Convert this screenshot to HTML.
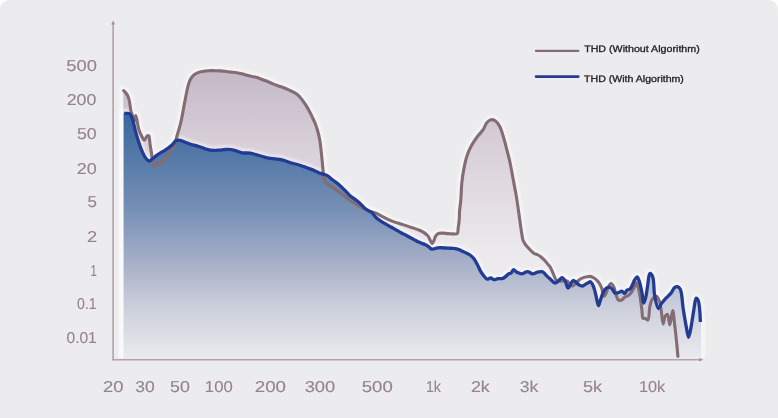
<!DOCTYPE html>
<html><head><meta charset="utf-8">
<style>
html,body{margin:0;padding:0;background:#fff;}
body{width:778px;height:418px;overflow:hidden;}
.card{position:absolute;left:0;top:0;width:778px;height:418px;background:#ececee;border-radius:9px 9px 0 0;}
svg{position:absolute;left:0;top:0;text-rendering:geometricPrecision;will-change:transform;}
.ax text{font-family:"Liberation Sans",sans-serif;font-size:15.8px;fill:#94838b;stroke:#94838b;stroke-width:0.12px;}
.lg text{font-family:"Liberation Sans",sans-serif;font-size:9.5px;fill:#222;stroke:#222;stroke-width:0.3px;}
</style></head><body>
<div class="card"></div>
<svg width="778" height="418" viewBox="0 0 778 418">
<defs>
<linearGradient id="gb" x1="0" y1="70" x2="0" y2="255" gradientUnits="userSpaceOnUse">
<stop offset="0" stop-color="#c4b8c7"/>
<stop offset="0.4" stop-color="#d8cfd8"/>
<stop offset="1" stop-color="#edeaed"/>
</linearGradient>
<linearGradient id="gu" x1="0" y1="112" x2="0" y2="358" gradientUnits="userSpaceOnUse">
<stop offset="0" stop-color="#37669d"/>
<stop offset="0.4" stop-color="#7790b5"/>
<stop offset="0.62" stop-color="#a8b1c8"/>
<stop offset="0.8" stop-color="#cdd0dc"/>
<stop offset="1" stop-color="#eaeaee"/>
</linearGradient>
<filter id="bl" x="-5%" y="-5%" width="110%" height="110%"><feGaussianBlur stdDeviation="1.2"/></filter>
<clipPath id="cp"><rect x="0" y="0" width="778" height="358.2"/></clipPath>
</defs>
<path d="M123.3,359.5 L123.3,90.7 L123.7,90.7 C123.70,90.70 126.22,93.15 127.1,94.6 C127.98,96.05 128.52,97.71 129,99.4 C129.51,101.19 129.68,103.20 130,105.1 C130.32,107.00 130.48,109.00 130.9,110.8 C131.29,112.48 131.90,113.95 132.4,115.6 C132.93,117.35 133.44,120.99 134,121 C134.57,121.01 135.20,115.47 135.8,115.5 C136.72,115.55 137.47,125.02 138.6,128.7 C139.45,131.48 140.42,133.78 141.5,135.8 C142.39,137.46 143.45,140.11 144.4,140.1 C145.35,140.09 146.27,136.30 147.2,135.8 C147.70,135.53 148.29,135.45 148.7,135.8 C149.69,136.64 149.63,141.52 150.1,144.4 C150.57,147.29 151.03,150.10 151.5,153.1 C152.00,156.32 152.33,160.67 153,163.1 C153.40,164.56 153.82,166.45 154.4,166.5 C155.01,166.56 155.74,163.40 156.6,163.1 C157.23,162.88 158.02,163.65 158.7,163.8 C159.32,163.94 159.90,164.20 160.5,164 C161.33,163.73 162.11,162.69 163,161.7 C164.30,160.25 165.86,157.82 167.3,155.9 C168.73,153.99 170.38,152.17 171.6,150.2 C172.76,148.33 173.64,146.60 174.5,144.4 C175.55,141.73 176.36,138.07 177.2,135.2 C177.94,132.68 178.62,130.59 179.3,128.1 C180.05,125.35 180.82,122.51 181.5,119.4 C182.27,115.87 182.89,111.81 183.6,108 C184.32,104.17 185.14,99.86 185.8,96.5 C186.31,93.88 186.70,91.69 187.2,89.5 C187.64,87.55 188.06,85.73 188.6,84 C189.10,82.41 189.52,80.91 190.3,79.5 C191.11,78.04 192.18,76.53 193.4,75.4 C194.59,74.31 196.00,73.45 197.5,72.8 C199.06,72.13 200.81,71.84 202.6,71.5 C204.56,71.13 206.73,70.83 208.8,70.7 C210.86,70.57 212.94,70.67 215,70.7 C217.04,70.73 219.15,70.76 221.1,70.9 C222.91,71.03 224.58,71.30 226.3,71.5 C228.01,71.70 229.69,71.88 231.4,72.1 C233.13,72.32 234.88,72.52 236.6,72.8 C238.31,73.08 240.01,73.40 241.7,73.8 C243.41,74.20 245.09,74.77 246.8,75.2 C248.52,75.63 250.28,76.00 252,76.4 C253.71,76.80 255.65,77.16 257.1,77.6 C258.22,77.94 258.87,78.28 260,78.7 C261.58,79.29 263.80,80.06 265.7,80.8 C267.63,81.56 269.57,82.41 271.5,83.2 C273.41,83.98 275.28,84.78 277.2,85.5 C279.12,86.22 281.08,86.78 283,87.5 C284.92,88.22 286.82,88.94 288.7,89.8 C290.62,90.67 292.66,91.65 294.4,92.7 C296.00,93.66 297.49,94.58 298.8,95.8 C300.13,97.04 301.15,98.58 302.3,100.1 C303.52,101.71 304.74,103.37 305.9,105.2 C307.15,107.18 308.39,109.51 309.5,111.6 C310.54,113.57 311.45,115.41 312.4,117.4 C313.39,119.47 314.46,121.66 315.3,123.8 C316.11,125.86 316.74,127.69 317.4,130 C318.22,132.86 319.05,136.06 319.7,139.7 C320.52,144.27 321.01,149.86 321.6,155.3 C322.25,161.25 323.02,169.90 323.4,174 C323.59,176.01 323.41,177.05 323.8,178.5 C324.20,179.99 324.80,181.59 325.8,182.8 C326.86,184.08 328.51,184.79 330.1,185.9 C332.03,187.25 334.46,188.79 336.6,190.3 C338.76,191.82 340.82,193.38 343,195 C345.29,196.71 348.01,198.93 350,200.3 C351.40,201.26 352.42,201.79 353.7,202.6 C355.11,203.48 356.69,204.53 358.1,205.4 C359.38,206.19 360.55,206.90 361.8,207.6 C363.05,208.30 364.20,208.98 365.6,209.6 C367.22,210.32 369.23,211.01 371,211.6 C372.69,212.17 374.28,212.38 376,213.1 C378.00,213.94 380.12,215.41 382.2,216.5 C384.26,217.58 386.30,218.66 388.4,219.6 C390.47,220.53 392.59,221.36 394.7,222.1 C396.76,222.82 398.94,223.39 400.9,224 C402.68,224.55 404.36,225.05 406,225.6 C407.55,226.12 408.99,226.70 410.5,227.2 C412.00,227.70 413.47,228.07 415,228.6 C416.63,229.16 418.45,229.80 420,230.5 C421.43,231.14 422.71,231.72 424,232.6 C425.41,233.56 427.07,234.78 428.1,236.1 C429.04,237.30 429.42,238.82 430.1,240.1 C430.75,241.31 431.43,243.60 432.1,243.6 C432.77,243.60 433.52,241.33 434.1,240.1 C434.69,238.83 434.88,237.21 435.6,236.1 C436.25,235.09 437.07,234.11 438.1,233.6 C439.20,233.06 440.62,233.13 442.1,233.1 C443.92,233.06 446.27,233.46 448.2,233.6 C449.95,233.72 451.63,233.91 453.2,233.9 C454.61,233.89 456.35,234.37 457.2,233.6 C458.22,232.68 457.89,230.04 458.2,228 C458.57,225.57 458.97,222.78 459.2,220 C459.45,217.00 459.35,213.82 459.6,210.6 C459.87,207.17 460.46,203.94 460.8,200 C461.23,195.05 461.24,188.64 461.8,183.2 C462.33,178.02 463.05,172.91 464,168.1 C464.88,163.61 465.85,159.14 467.2,155.2 C468.41,151.68 469.76,148.66 471.5,145.5 C473.33,142.19 475.86,138.65 478,135.8 C479.82,133.39 481.94,131.63 483.4,129.4 C484.76,127.32 485.21,124.57 486.6,122.9 C487.79,121.46 489.39,120.00 490.9,119.7 C492.27,119.43 493.89,119.96 495.2,120.8 C496.82,121.84 498.21,123.77 499.5,126.1 C501.40,129.52 503.05,135.87 504.3,140 C505.28,143.25 505.78,145.60 506.6,148.8 C507.59,152.64 508.78,156.85 509.8,161.5 C511.03,167.07 512.34,174.93 513.3,180 C513.97,183.53 514.46,186.07 515,189 C515.52,191.80 515.98,194.05 516.5,197.2 C517.20,201.47 517.98,207.27 518.7,212.3 C519.42,217.33 520.18,223.22 520.8,227.4 C521.24,230.37 521.60,232.70 522,235 C522.33,236.93 522.43,238.76 523,240.3 C523.49,241.63 524.27,242.70 525,243.8 C525.71,244.86 526.29,245.65 527.3,246.8 C528.87,248.58 531.73,251.82 533.8,253.2 C535.28,254.19 536.84,254.31 538.1,255 C539.20,255.60 540.03,256.23 541,257 C542.09,257.87 543.17,258.83 544.3,260 C545.66,261.42 547.45,263.78 548.5,265 C549.12,265.72 549.47,265.88 550,266.7 C551.02,268.27 552.29,271.86 553.4,274.2 C554.39,276.29 554.96,278.95 556.3,280.1 C557.34,281.00 558.80,281.23 560.1,281.3 C561.43,281.38 562.90,280.48 564.2,280.5 C565.39,280.52 566.65,280.64 567.6,281.3 C568.68,282.05 569.12,284.33 570.1,285.1 C570.85,285.69 571.75,286.16 572.6,286 C573.71,285.79 574.89,284.04 576,283 C577.13,281.94 578.05,280.60 579.3,279.7 C580.55,278.80 582.07,278.10 583.5,277.6 C584.87,277.12 586.51,276.91 587.7,276.7 C588.58,276.55 589.14,276.29 590,276.4 C591.17,276.55 592.79,277.29 594,278 C595.18,278.70 596.23,279.57 597.2,280.6 C598.25,281.71 599.20,283.12 600,284.5 C600.80,285.89 601.41,287.22 602,288.9 C602.73,290.98 602.93,295.86 603.8,296.1 C604.31,296.24 605.04,295.17 605.6,294.3 C606.52,292.85 607.00,289.59 608,287.7 C608.85,286.08 609.99,283.53 611,283.5 C611.96,283.47 613.15,285.63 613.9,287.1 C614.82,288.89 614.99,291.57 615.7,293.7 C616.39,295.77 616.91,298.71 618.1,299.7 C618.92,300.38 620.11,300.55 621.1,300.3 C622.32,299.99 623.45,298.12 624.7,297.3 C625.86,296.54 627.21,296.28 628.3,295.5 C629.42,294.69 630.38,293.72 631.3,292.5 C632.41,291.02 633.46,288.81 634.3,287.1 C635.02,285.63 635.50,282.91 636.1,282.9 C636.66,282.89 637.40,285.67 637.8,286.5 C638.01,286.94 638.12,286.98 638.3,287.5 C638.82,289.05 639.54,293.66 640.1,297.1 C640.75,301.08 641.38,306.16 641.9,310 C642.32,313.10 641.96,317.57 643,318.4 C643.51,318.80 644.30,318.03 645,318.2 C645.91,318.42 647.15,320.44 647.9,320.1 C649.38,319.43 648.92,310.60 649.8,306.8 C650.48,303.85 650.95,300.91 652.3,299.1 C653.37,297.66 655.35,295.94 656.5,296.2 C657.70,296.47 658.56,299.05 659.3,301 C660.28,303.59 660.60,307.13 661.2,310.6 C661.91,314.69 662.44,323.96 663.2,324 C663.78,324.03 664.06,317.91 665.1,316.3 C665.74,315.30 666.84,314.16 667.5,314.4 C668.74,314.84 669.00,324.91 669.8,324.9 C670.73,324.89 671.89,310.58 672.7,310.6 C673.48,310.62 674.00,319.25 674.6,324 C675.28,329.37 675.94,335.64 676.5,341.2 C677.03,346.42 677.90,356.40 677.9,356.4 L677.9,356.4 L677.9,359.5 Z" fill="none" stroke="#fff" stroke-width="9" stroke-opacity="0.45" filter="url(#bl)" clip-path="url(#cp)"/>
<path d="M123.3,359.5 L123.3,90.7 L123.7,90.7 C123.70,90.70 126.22,93.15 127.1,94.6 C127.98,96.05 128.52,97.71 129,99.4 C129.51,101.19 129.68,103.20 130,105.1 C130.32,107.00 130.48,109.00 130.9,110.8 C131.29,112.48 131.90,113.95 132.4,115.6 C132.93,117.35 133.44,120.99 134,121 C134.57,121.01 135.20,115.47 135.8,115.5 C136.72,115.55 137.47,125.02 138.6,128.7 C139.45,131.48 140.42,133.78 141.5,135.8 C142.39,137.46 143.45,140.11 144.4,140.1 C145.35,140.09 146.27,136.30 147.2,135.8 C147.70,135.53 148.29,135.45 148.7,135.8 C149.69,136.64 149.63,141.52 150.1,144.4 C150.57,147.29 151.03,150.10 151.5,153.1 C152.00,156.32 152.33,160.67 153,163.1 C153.40,164.56 153.82,166.45 154.4,166.5 C155.01,166.56 155.74,163.40 156.6,163.1 C157.23,162.88 158.02,163.65 158.7,163.8 C159.32,163.94 159.90,164.20 160.5,164 C161.33,163.73 162.11,162.69 163,161.7 C164.30,160.25 165.86,157.82 167.3,155.9 C168.73,153.99 170.38,152.17 171.6,150.2 C172.76,148.33 173.64,146.60 174.5,144.4 C175.55,141.73 176.36,138.07 177.2,135.2 C177.94,132.68 178.62,130.59 179.3,128.1 C180.05,125.35 180.82,122.51 181.5,119.4 C182.27,115.87 182.89,111.81 183.6,108 C184.32,104.17 185.14,99.86 185.8,96.5 C186.31,93.88 186.70,91.69 187.2,89.5 C187.64,87.55 188.06,85.73 188.6,84 C189.10,82.41 189.52,80.91 190.3,79.5 C191.11,78.04 192.18,76.53 193.4,75.4 C194.59,74.31 196.00,73.45 197.5,72.8 C199.06,72.13 200.81,71.84 202.6,71.5 C204.56,71.13 206.73,70.83 208.8,70.7 C210.86,70.57 212.94,70.67 215,70.7 C217.04,70.73 219.15,70.76 221.1,70.9 C222.91,71.03 224.58,71.30 226.3,71.5 C228.01,71.70 229.69,71.88 231.4,72.1 C233.13,72.32 234.88,72.52 236.6,72.8 C238.31,73.08 240.01,73.40 241.7,73.8 C243.41,74.20 245.09,74.77 246.8,75.2 C248.52,75.63 250.28,76.00 252,76.4 C253.71,76.80 255.65,77.16 257.1,77.6 C258.22,77.94 258.87,78.28 260,78.7 C261.58,79.29 263.80,80.06 265.7,80.8 C267.63,81.56 269.57,82.41 271.5,83.2 C273.41,83.98 275.28,84.78 277.2,85.5 C279.12,86.22 281.08,86.78 283,87.5 C284.92,88.22 286.82,88.94 288.7,89.8 C290.62,90.67 292.66,91.65 294.4,92.7 C296.00,93.66 297.49,94.58 298.8,95.8 C300.13,97.04 301.15,98.58 302.3,100.1 C303.52,101.71 304.74,103.37 305.9,105.2 C307.15,107.18 308.39,109.51 309.5,111.6 C310.54,113.57 311.45,115.41 312.4,117.4 C313.39,119.47 314.46,121.66 315.3,123.8 C316.11,125.86 316.74,127.69 317.4,130 C318.22,132.86 319.05,136.06 319.7,139.7 C320.52,144.27 321.01,149.86 321.6,155.3 C322.25,161.25 323.02,169.90 323.4,174 C323.59,176.01 323.41,177.05 323.8,178.5 C324.20,179.99 324.80,181.59 325.8,182.8 C326.86,184.08 328.51,184.79 330.1,185.9 C332.03,187.25 334.46,188.79 336.6,190.3 C338.76,191.82 340.82,193.38 343,195 C345.29,196.71 348.01,198.93 350,200.3 C351.40,201.26 352.42,201.79 353.7,202.6 C355.11,203.48 356.69,204.53 358.1,205.4 C359.38,206.19 360.55,206.90 361.8,207.6 C363.05,208.30 364.20,208.98 365.6,209.6 C367.22,210.32 369.23,211.01 371,211.6 C372.69,212.17 374.28,212.38 376,213.1 C378.00,213.94 380.12,215.41 382.2,216.5 C384.26,217.58 386.30,218.66 388.4,219.6 C390.47,220.53 392.59,221.36 394.7,222.1 C396.76,222.82 398.94,223.39 400.9,224 C402.68,224.55 404.36,225.05 406,225.6 C407.55,226.12 408.99,226.70 410.5,227.2 C412.00,227.70 413.47,228.07 415,228.6 C416.63,229.16 418.45,229.80 420,230.5 C421.43,231.14 422.71,231.72 424,232.6 C425.41,233.56 427.07,234.78 428.1,236.1 C429.04,237.30 429.42,238.82 430.1,240.1 C430.75,241.31 431.43,243.60 432.1,243.6 C432.77,243.60 433.52,241.33 434.1,240.1 C434.69,238.83 434.88,237.21 435.6,236.1 C436.25,235.09 437.07,234.11 438.1,233.6 C439.20,233.06 440.62,233.13 442.1,233.1 C443.92,233.06 446.27,233.46 448.2,233.6 C449.95,233.72 451.63,233.91 453.2,233.9 C454.61,233.89 456.35,234.37 457.2,233.6 C458.22,232.68 457.89,230.04 458.2,228 C458.57,225.57 458.97,222.78 459.2,220 C459.45,217.00 459.35,213.82 459.6,210.6 C459.87,207.17 460.46,203.94 460.8,200 C461.23,195.05 461.24,188.64 461.8,183.2 C462.33,178.02 463.05,172.91 464,168.1 C464.88,163.61 465.85,159.14 467.2,155.2 C468.41,151.68 469.76,148.66 471.5,145.5 C473.33,142.19 475.86,138.65 478,135.8 C479.82,133.39 481.94,131.63 483.4,129.4 C484.76,127.32 485.21,124.57 486.6,122.9 C487.79,121.46 489.39,120.00 490.9,119.7 C492.27,119.43 493.89,119.96 495.2,120.8 C496.82,121.84 498.21,123.77 499.5,126.1 C501.40,129.52 503.05,135.87 504.3,140 C505.28,143.25 505.78,145.60 506.6,148.8 C507.59,152.64 508.78,156.85 509.8,161.5 C511.03,167.07 512.34,174.93 513.3,180 C513.97,183.53 514.46,186.07 515,189 C515.52,191.80 515.98,194.05 516.5,197.2 C517.20,201.47 517.98,207.27 518.7,212.3 C519.42,217.33 520.18,223.22 520.8,227.4 C521.24,230.37 521.60,232.70 522,235 C522.33,236.93 522.43,238.76 523,240.3 C523.49,241.63 524.27,242.70 525,243.8 C525.71,244.86 526.29,245.65 527.3,246.8 C528.87,248.58 531.73,251.82 533.8,253.2 C535.28,254.19 536.84,254.31 538.1,255 C539.20,255.60 540.03,256.23 541,257 C542.09,257.87 543.17,258.83 544.3,260 C545.66,261.42 547.45,263.78 548.5,265 C549.12,265.72 549.47,265.88 550,266.7 C551.02,268.27 552.29,271.86 553.4,274.2 C554.39,276.29 554.96,278.95 556.3,280.1 C557.34,281.00 558.80,281.23 560.1,281.3 C561.43,281.38 562.90,280.48 564.2,280.5 C565.39,280.52 566.65,280.64 567.6,281.3 C568.68,282.05 569.12,284.33 570.1,285.1 C570.85,285.69 571.75,286.16 572.6,286 C573.71,285.79 574.89,284.04 576,283 C577.13,281.94 578.05,280.60 579.3,279.7 C580.55,278.80 582.07,278.10 583.5,277.6 C584.87,277.12 586.51,276.91 587.7,276.7 C588.58,276.55 589.14,276.29 590,276.4 C591.17,276.55 592.79,277.29 594,278 C595.18,278.70 596.23,279.57 597.2,280.6 C598.25,281.71 599.20,283.12 600,284.5 C600.80,285.89 601.41,287.22 602,288.9 C602.73,290.98 602.93,295.86 603.8,296.1 C604.31,296.24 605.04,295.17 605.6,294.3 C606.52,292.85 607.00,289.59 608,287.7 C608.85,286.08 609.99,283.53 611,283.5 C611.96,283.47 613.15,285.63 613.9,287.1 C614.82,288.89 614.99,291.57 615.7,293.7 C616.39,295.77 616.91,298.71 618.1,299.7 C618.92,300.38 620.11,300.55 621.1,300.3 C622.32,299.99 623.45,298.12 624.7,297.3 C625.86,296.54 627.21,296.28 628.3,295.5 C629.42,294.69 630.38,293.72 631.3,292.5 C632.41,291.02 633.46,288.81 634.3,287.1 C635.02,285.63 635.50,282.91 636.1,282.9 C636.66,282.89 637.40,285.67 637.8,286.5 C638.01,286.94 638.12,286.98 638.3,287.5 C638.82,289.05 639.54,293.66 640.1,297.1 C640.75,301.08 641.38,306.16 641.9,310 C642.32,313.10 641.96,317.57 643,318.4 C643.51,318.80 644.30,318.03 645,318.2 C645.91,318.42 647.15,320.44 647.9,320.1 C649.38,319.43 648.92,310.60 649.8,306.8 C650.48,303.85 650.95,300.91 652.3,299.1 C653.37,297.66 655.35,295.94 656.5,296.2 C657.70,296.47 658.56,299.05 659.3,301 C660.28,303.59 660.60,307.13 661.2,310.6 C661.91,314.69 662.44,323.96 663.2,324 C663.78,324.03 664.06,317.91 665.1,316.3 C665.74,315.30 666.84,314.16 667.5,314.4 C668.74,314.84 669.00,324.91 669.8,324.9 C670.73,324.89 671.89,310.58 672.7,310.6 C673.48,310.62 674.00,319.25 674.6,324 C675.28,329.37 675.94,335.64 676.5,341.2 C677.03,346.42 677.90,356.40 677.9,356.4 L677.9,356.4 L677.9,359.5 Z" fill="url(#gb)"/>
<path d="M123.6,359.5 L123.6,113.4 L124.2,113.4 C124.20,113.40 127.78,113.07 129,113.6 C129.98,114.03 130.59,114.83 131.2,115.8 C132.00,117.07 132.42,118.86 133,120.8 C133.77,123.40 134.37,126.95 135.2,130.1 C136.07,133.41 137.04,136.86 138.1,140.2 C139.17,143.56 140.32,147.18 141.6,150.2 C142.71,152.84 143.83,155.50 145.2,157.4 C146.29,158.91 147.53,160.84 148.8,161 C149.95,161.15 151.18,159.75 152.4,158.9 C153.81,157.91 155.12,156.45 156.7,155.3 C158.45,154.03 160.58,152.90 162.5,151.7 C164.41,150.50 166.47,149.36 168.2,148.1 C169.78,146.95 171.16,145.78 172.5,144.5 C173.82,143.24 174.78,141.16 176.2,140.5 C177.43,139.93 178.88,140.07 180.3,140.3 C181.94,140.57 183.69,141.65 185.4,142.3 C187.12,142.95 188.79,143.62 190.6,144.2 C192.54,144.82 194.75,145.33 196.7,145.9 C198.51,146.43 200.18,146.93 201.9,147.5 C203.61,148.07 205.20,148.83 207,149.3 C208.95,149.81 211.13,150.27 213.2,150.4 C215.26,150.53 217.34,150.25 219.4,150.1 C221.44,149.95 223.46,149.57 225.5,149.5 C227.56,149.43 229.75,149.41 231.7,149.7 C233.50,149.97 235.10,150.59 236.8,151.1 C238.53,151.62 240.04,152.44 242,152.8 C244.42,153.25 247.75,152.81 250.3,153.2 C252.54,153.54 254.44,154.25 256.5,154.8 C258.54,155.35 260.56,155.94 262.6,156.5 C264.66,157.07 266.72,157.80 268.8,158.2 C270.85,158.59 272.94,158.67 275,158.9 C277.04,159.13 279.17,159.20 281.1,159.6 C282.92,159.98 284.58,160.63 286.3,161.2 C288.01,161.77 289.60,162.47 291.4,163 C293.35,163.58 295.55,163.91 297.6,164.5 C299.68,165.10 301.75,165.87 303.8,166.6 C305.85,167.33 307.87,168.09 309.9,168.9 C311.97,169.72 314.23,170.69 316.1,171.5 C317.67,172.17 318.80,172.80 320.4,173.4 C322.32,174.12 324.93,174.38 326.9,175.4 C328.86,176.42 330.34,178.08 332.2,179.5 C334.25,181.07 336.58,182.60 338.7,184.4 C340.92,186.29 343.23,188.59 345.2,190.6 C346.95,192.38 348.43,194.45 350,195.8 C351.25,196.87 352.47,197.40 353.7,198.3 C354.98,199.23 356.31,200.31 357.5,201.3 C358.60,202.21 359.59,203.04 360.6,204 C361.65,205.00 362.59,206.18 363.7,207.2 C364.85,208.25 366.07,209.32 367.4,210.2 C368.76,211.10 370.45,211.41 371.8,212.5 C373.35,213.75 374.57,216.14 376,217.5 C377.21,218.65 378.39,219.39 379.7,220.3 C381.08,221.26 382.63,222.21 384.1,223.1 C385.53,223.97 386.95,224.78 388.4,225.6 C389.85,226.42 391.34,227.19 392.8,228 C394.27,228.82 395.74,229.66 397.2,230.5 C398.64,231.33 400.04,232.22 401.5,233 C402.97,233.78 404.37,234.36 406,235.2 C408.00,236.23 410.94,237.90 412.6,238.8 C413.60,239.34 414.05,239.61 415,240.1 C416.36,240.81 418.32,241.84 420,242.6 C421.65,243.34 423.55,243.92 425,244.6 C426.18,245.15 427.07,245.61 428.1,246.3 C429.26,247.08 430.18,248.76 431.6,249.1 C433.28,249.50 435.74,248.01 437.7,247.8 C439.49,247.61 441.18,247.73 442.9,247.8 C444.61,247.87 446.30,248.12 448,248.2 C449.70,248.28 451.55,248.18 453.1,248.3 C454.41,248.40 455.48,248.48 456.7,248.8 C458.04,249.15 459.36,249.78 460.8,250.4 C462.44,251.11 464.39,252.09 466,252.9 C467.43,253.62 468.74,254.10 470,255 C471.35,255.97 472.62,257.11 473.8,258.6 C475.23,260.41 476.54,263.13 477.7,265.3 C478.75,267.28 479.49,269.34 480.5,271.1 C481.41,272.68 482.30,274.06 483.4,275.4 C484.52,276.76 485.88,278.94 487.2,279.2 C488.29,279.42 489.48,277.73 490.6,277.8 C491.75,277.87 492.80,279.55 494,279.7 C495.20,279.85 496.45,278.90 497.8,278.7 C499.30,278.47 501.15,278.98 502.6,278.5 C504.01,278.03 505.24,276.78 506.4,275.9 C507.45,275.11 508.39,273.97 509.3,273.5 C509.96,273.16 510.60,273.42 511.2,273 C512.07,272.39 512.73,269.71 513.6,269.6 C514.35,269.50 515.28,271.06 516,271.6 C516.55,272.01 516.84,272.30 517.5,272.6 C518.52,273.07 520.19,273.85 521.7,273.8 C523.51,273.74 525.72,271.65 527.6,271.7 C529.35,271.75 530.92,273.73 532.6,273.8 C534.25,273.87 535.91,272.55 537.6,272.2 C539.25,271.86 541.19,271.20 542.6,271.7 C543.98,272.19 544.81,273.95 546,275.1 C547.27,276.32 548.58,277.54 550,278.8 C551.56,280.17 553.46,282.89 555,283 C556.21,283.09 557.27,281.73 558.4,280.9 C559.67,279.97 561.05,277.52 562.2,277.6 C563.27,277.67 564.24,279.50 565.1,280.9 C566.25,282.76 566.96,288.00 568,288.1 C568.79,288.18 569.65,285.56 570.5,284.3 C571.35,283.03 572.09,280.73 573.1,280.5 C573.96,280.31 575.04,281.50 576,282.2 C577.10,283.00 578.11,284.47 579.3,285.1 C580.36,285.67 581.61,286.17 582.7,286 C583.85,285.82 584.88,284.54 586,283.9 C587.11,283.27 588.74,282.63 589.4,282.2 C589.70,282.01 589.74,281.69 590,281.7 C590.54,281.72 591.70,283.00 592.4,284.1 C593.41,285.68 594.12,288.39 594.8,290.7 C595.53,293.17 595.99,295.95 596.6,298.5 C597.19,300.95 597.73,305.66 598.4,305.7 C598.95,305.73 599.53,302.73 600.2,300.9 C601.08,298.49 602.04,294.76 603.2,292.5 C604.08,290.79 604.97,289.20 606.1,288.3 C607.00,287.58 608.12,287.02 609.1,287.1 C610.12,287.18 611.18,288.05 612.1,288.9 C613.22,289.93 613.87,292.59 615.1,293.1 C616.14,293.53 617.58,292.85 618.7,292.5 C619.77,292.17 620.73,290.98 621.7,291.1 C622.74,291.22 623.81,293.63 624.7,293.5 C625.62,293.37 626.12,290.87 627.1,290.1 C627.96,289.42 629.26,289.63 630.1,288.9 C631.13,288.00 631.73,286.20 632.5,284.7 C633.34,283.05 633.98,280.76 634.9,279.4 C635.60,278.37 636.51,276.88 637.2,277 C638.10,277.15 638.81,280.07 639.5,282.1 C640.44,284.88 641.21,288.84 641.9,292.3 C642.61,295.84 642.94,303.03 643.7,303.1 C644.22,303.15 644.96,300.30 645.5,298.3 C646.34,295.18 646.89,290.12 647.6,286 C648.32,281.85 648.49,273.89 649.8,273.5 C650.55,273.28 651.86,274.88 652.6,276.5 C654.21,280.02 653.57,290.06 654.7,295.8 C655.64,300.58 657.03,308.53 658.4,308.7 C659.28,308.81 660.06,305.52 661.2,303.9 C662.52,302.03 664.36,299.99 666,298.2 C667.56,296.50 669.37,295.16 670.8,293.4 C672.24,291.63 673.22,288.64 674.6,287.6 C675.52,286.91 676.60,286.48 677.5,286.7 C678.55,286.96 679.60,288.01 680.4,289.6 C682.13,293.04 682.22,302.51 683.2,308.7 C684.13,314.59 685.10,320.77 686.1,325.9 C686.91,330.10 687.76,337.29 688.6,337.3 C689.36,337.31 690.16,331.45 690.9,327.8 C691.88,322.93 692.74,315.86 693.7,310.6 C694.52,306.12 695.00,298.56 696.2,298.2 C696.75,298.03 697.56,298.97 698.1,300.1 C699.64,303.33 700.40,322.00 700.4,322 L701,322 L701,359.5 Z" fill="none" stroke="#fff" stroke-width="9" stroke-opacity="0.45" filter="url(#bl)" clip-path="url(#cp)"/>
<path d="M123.6,359.5 L123.6,113.4 L124.2,113.4 C124.20,113.40 127.78,113.07 129,113.6 C129.98,114.03 130.59,114.83 131.2,115.8 C132.00,117.07 132.42,118.86 133,120.8 C133.77,123.40 134.37,126.95 135.2,130.1 C136.07,133.41 137.04,136.86 138.1,140.2 C139.17,143.56 140.32,147.18 141.6,150.2 C142.71,152.84 143.83,155.50 145.2,157.4 C146.29,158.91 147.53,160.84 148.8,161 C149.95,161.15 151.18,159.75 152.4,158.9 C153.81,157.91 155.12,156.45 156.7,155.3 C158.45,154.03 160.58,152.90 162.5,151.7 C164.41,150.50 166.47,149.36 168.2,148.1 C169.78,146.95 171.16,145.78 172.5,144.5 C173.82,143.24 174.78,141.16 176.2,140.5 C177.43,139.93 178.88,140.07 180.3,140.3 C181.94,140.57 183.69,141.65 185.4,142.3 C187.12,142.95 188.79,143.62 190.6,144.2 C192.54,144.82 194.75,145.33 196.7,145.9 C198.51,146.43 200.18,146.93 201.9,147.5 C203.61,148.07 205.20,148.83 207,149.3 C208.95,149.81 211.13,150.27 213.2,150.4 C215.26,150.53 217.34,150.25 219.4,150.1 C221.44,149.95 223.46,149.57 225.5,149.5 C227.56,149.43 229.75,149.41 231.7,149.7 C233.50,149.97 235.10,150.59 236.8,151.1 C238.53,151.62 240.04,152.44 242,152.8 C244.42,153.25 247.75,152.81 250.3,153.2 C252.54,153.54 254.44,154.25 256.5,154.8 C258.54,155.35 260.56,155.94 262.6,156.5 C264.66,157.07 266.72,157.80 268.8,158.2 C270.85,158.59 272.94,158.67 275,158.9 C277.04,159.13 279.17,159.20 281.1,159.6 C282.92,159.98 284.58,160.63 286.3,161.2 C288.01,161.77 289.60,162.47 291.4,163 C293.35,163.58 295.55,163.91 297.6,164.5 C299.68,165.10 301.75,165.87 303.8,166.6 C305.85,167.33 307.87,168.09 309.9,168.9 C311.97,169.72 314.23,170.69 316.1,171.5 C317.67,172.17 318.80,172.80 320.4,173.4 C322.32,174.12 324.93,174.38 326.9,175.4 C328.86,176.42 330.34,178.08 332.2,179.5 C334.25,181.07 336.58,182.60 338.7,184.4 C340.92,186.29 343.23,188.59 345.2,190.6 C346.95,192.38 348.43,194.45 350,195.8 C351.25,196.87 352.47,197.40 353.7,198.3 C354.98,199.23 356.31,200.31 357.5,201.3 C358.60,202.21 359.59,203.04 360.6,204 C361.65,205.00 362.59,206.18 363.7,207.2 C364.85,208.25 366.07,209.32 367.4,210.2 C368.76,211.10 370.45,211.41 371.8,212.5 C373.35,213.75 374.57,216.14 376,217.5 C377.21,218.65 378.39,219.39 379.7,220.3 C381.08,221.26 382.63,222.21 384.1,223.1 C385.53,223.97 386.95,224.78 388.4,225.6 C389.85,226.42 391.34,227.19 392.8,228 C394.27,228.82 395.74,229.66 397.2,230.5 C398.64,231.33 400.04,232.22 401.5,233 C402.97,233.78 404.37,234.36 406,235.2 C408.00,236.23 410.94,237.90 412.6,238.8 C413.60,239.34 414.05,239.61 415,240.1 C416.36,240.81 418.32,241.84 420,242.6 C421.65,243.34 423.55,243.92 425,244.6 C426.18,245.15 427.07,245.61 428.1,246.3 C429.26,247.08 430.18,248.76 431.6,249.1 C433.28,249.50 435.74,248.01 437.7,247.8 C439.49,247.61 441.18,247.73 442.9,247.8 C444.61,247.87 446.30,248.12 448,248.2 C449.70,248.28 451.55,248.18 453.1,248.3 C454.41,248.40 455.48,248.48 456.7,248.8 C458.04,249.15 459.36,249.78 460.8,250.4 C462.44,251.11 464.39,252.09 466,252.9 C467.43,253.62 468.74,254.10 470,255 C471.35,255.97 472.62,257.11 473.8,258.6 C475.23,260.41 476.54,263.13 477.7,265.3 C478.75,267.28 479.49,269.34 480.5,271.1 C481.41,272.68 482.30,274.06 483.4,275.4 C484.52,276.76 485.88,278.94 487.2,279.2 C488.29,279.42 489.48,277.73 490.6,277.8 C491.75,277.87 492.80,279.55 494,279.7 C495.20,279.85 496.45,278.90 497.8,278.7 C499.30,278.47 501.15,278.98 502.6,278.5 C504.01,278.03 505.24,276.78 506.4,275.9 C507.45,275.11 508.39,273.97 509.3,273.5 C509.96,273.16 510.60,273.42 511.2,273 C512.07,272.39 512.73,269.71 513.6,269.6 C514.35,269.50 515.28,271.06 516,271.6 C516.55,272.01 516.84,272.30 517.5,272.6 C518.52,273.07 520.19,273.85 521.7,273.8 C523.51,273.74 525.72,271.65 527.6,271.7 C529.35,271.75 530.92,273.73 532.6,273.8 C534.25,273.87 535.91,272.55 537.6,272.2 C539.25,271.86 541.19,271.20 542.6,271.7 C543.98,272.19 544.81,273.95 546,275.1 C547.27,276.32 548.58,277.54 550,278.8 C551.56,280.17 553.46,282.89 555,283 C556.21,283.09 557.27,281.73 558.4,280.9 C559.67,279.97 561.05,277.52 562.2,277.6 C563.27,277.67 564.24,279.50 565.1,280.9 C566.25,282.76 566.96,288.00 568,288.1 C568.79,288.18 569.65,285.56 570.5,284.3 C571.35,283.03 572.09,280.73 573.1,280.5 C573.96,280.31 575.04,281.50 576,282.2 C577.10,283.00 578.11,284.47 579.3,285.1 C580.36,285.67 581.61,286.17 582.7,286 C583.85,285.82 584.88,284.54 586,283.9 C587.11,283.27 588.74,282.63 589.4,282.2 C589.70,282.01 589.74,281.69 590,281.7 C590.54,281.72 591.70,283.00 592.4,284.1 C593.41,285.68 594.12,288.39 594.8,290.7 C595.53,293.17 595.99,295.95 596.6,298.5 C597.19,300.95 597.73,305.66 598.4,305.7 C598.95,305.73 599.53,302.73 600.2,300.9 C601.08,298.49 602.04,294.76 603.2,292.5 C604.08,290.79 604.97,289.20 606.1,288.3 C607.00,287.58 608.12,287.02 609.1,287.1 C610.12,287.18 611.18,288.05 612.1,288.9 C613.22,289.93 613.87,292.59 615.1,293.1 C616.14,293.53 617.58,292.85 618.7,292.5 C619.77,292.17 620.73,290.98 621.7,291.1 C622.74,291.22 623.81,293.63 624.7,293.5 C625.62,293.37 626.12,290.87 627.1,290.1 C627.96,289.42 629.26,289.63 630.1,288.9 C631.13,288.00 631.73,286.20 632.5,284.7 C633.34,283.05 633.98,280.76 634.9,279.4 C635.60,278.37 636.51,276.88 637.2,277 C638.10,277.15 638.81,280.07 639.5,282.1 C640.44,284.88 641.21,288.84 641.9,292.3 C642.61,295.84 642.94,303.03 643.7,303.1 C644.22,303.15 644.96,300.30 645.5,298.3 C646.34,295.18 646.89,290.12 647.6,286 C648.32,281.85 648.49,273.89 649.8,273.5 C650.55,273.28 651.86,274.88 652.6,276.5 C654.21,280.02 653.57,290.06 654.7,295.8 C655.64,300.58 657.03,308.53 658.4,308.7 C659.28,308.81 660.06,305.52 661.2,303.9 C662.52,302.03 664.36,299.99 666,298.2 C667.56,296.50 669.37,295.16 670.8,293.4 C672.24,291.63 673.22,288.64 674.6,287.6 C675.52,286.91 676.60,286.48 677.5,286.7 C678.55,286.96 679.60,288.01 680.4,289.6 C682.13,293.04 682.22,302.51 683.2,308.7 C684.13,314.59 685.10,320.77 686.1,325.9 C686.91,330.10 687.76,337.29 688.6,337.3 C689.36,337.31 690.16,331.45 690.9,327.8 C691.88,322.93 692.74,315.86 693.7,310.6 C694.52,306.12 695.00,298.56 696.2,298.2 C696.75,298.03 697.56,298.97 698.1,300.1 C699.64,303.33 700.40,322.00 700.4,322 L701,322 L701,359.5 Z" fill="url(#gu)"/>
<path d="M123.7,90.7 C123.70,90.70 126.22,93.15 127.1,94.6 C127.98,96.05 128.52,97.71 129,99.4 C129.51,101.19 129.68,103.20 130,105.1 C130.32,107.00 130.48,109.00 130.9,110.8 C131.29,112.48 131.90,113.95 132.4,115.6 C132.93,117.35 133.44,120.99 134,121 C134.57,121.01 135.20,115.47 135.8,115.5 C136.72,115.55 137.47,125.02 138.6,128.7 C139.45,131.48 140.42,133.78 141.5,135.8 C142.39,137.46 143.45,140.11 144.4,140.1 C145.35,140.09 146.27,136.30 147.2,135.8 C147.70,135.53 148.29,135.45 148.7,135.8 C149.69,136.64 149.63,141.52 150.1,144.4 C150.57,147.29 151.03,150.10 151.5,153.1 C152.00,156.32 152.33,160.67 153,163.1 C153.40,164.56 153.82,166.45 154.4,166.5 C155.01,166.56 155.74,163.40 156.6,163.1 C157.23,162.88 158.02,163.65 158.7,163.8 C159.32,163.94 159.90,164.20 160.5,164 C161.33,163.73 162.11,162.69 163,161.7 C164.30,160.25 165.86,157.82 167.3,155.9 C168.73,153.99 170.38,152.17 171.6,150.2 C172.76,148.33 173.64,146.60 174.5,144.4 C175.55,141.73 176.36,138.07 177.2,135.2 C177.94,132.68 178.62,130.59 179.3,128.1 C180.05,125.35 180.82,122.51 181.5,119.4 C182.27,115.87 182.89,111.81 183.6,108 C184.32,104.17 185.14,99.86 185.8,96.5 C186.31,93.88 186.70,91.69 187.2,89.5 C187.64,87.55 188.06,85.73 188.6,84 C189.10,82.41 189.52,80.91 190.3,79.5 C191.11,78.04 192.18,76.53 193.4,75.4 C194.59,74.31 196.00,73.45 197.5,72.8 C199.06,72.13 200.81,71.84 202.6,71.5 C204.56,71.13 206.73,70.83 208.8,70.7 C210.86,70.57 212.94,70.67 215,70.7 C217.04,70.73 219.15,70.76 221.1,70.9 C222.91,71.03 224.58,71.30 226.3,71.5 C228.01,71.70 229.69,71.88 231.4,72.1 C233.13,72.32 234.88,72.52 236.6,72.8 C238.31,73.08 240.01,73.40 241.7,73.8 C243.41,74.20 245.09,74.77 246.8,75.2 C248.52,75.63 250.28,76.00 252,76.4 C253.71,76.80 255.65,77.16 257.1,77.6 C258.22,77.94 258.87,78.28 260,78.7 C261.58,79.29 263.80,80.06 265.7,80.8 C267.63,81.56 269.57,82.41 271.5,83.2 C273.41,83.98 275.28,84.78 277.2,85.5 C279.12,86.22 281.08,86.78 283,87.5 C284.92,88.22 286.82,88.94 288.7,89.8 C290.62,90.67 292.66,91.65 294.4,92.7 C296.00,93.66 297.49,94.58 298.8,95.8 C300.13,97.04 301.15,98.58 302.3,100.1 C303.52,101.71 304.74,103.37 305.9,105.2 C307.15,107.18 308.39,109.51 309.5,111.6 C310.54,113.57 311.45,115.41 312.4,117.4 C313.39,119.47 314.46,121.66 315.3,123.8 C316.11,125.86 316.74,127.69 317.4,130 C318.22,132.86 319.05,136.06 319.7,139.7 C320.52,144.27 321.01,149.86 321.6,155.3 C322.25,161.25 323.02,169.90 323.4,174 C323.59,176.01 323.41,177.05 323.8,178.5 C324.20,179.99 324.80,181.59 325.8,182.8 C326.86,184.08 328.51,184.79 330.1,185.9 C332.03,187.25 334.46,188.79 336.6,190.3 C338.76,191.82 340.82,193.38 343,195 C345.29,196.71 348.01,198.93 350,200.3 C351.40,201.26 352.42,201.79 353.7,202.6 C355.11,203.48 356.69,204.53 358.1,205.4 C359.38,206.19 360.55,206.90 361.8,207.6 C363.05,208.30 364.20,208.98 365.6,209.6 C367.22,210.32 369.23,211.01 371,211.6 C372.69,212.17 374.28,212.38 376,213.1 C378.00,213.94 380.12,215.41 382.2,216.5 C384.26,217.58 386.30,218.66 388.4,219.6 C390.47,220.53 392.59,221.36 394.7,222.1 C396.76,222.82 398.94,223.39 400.9,224 C402.68,224.55 404.36,225.05 406,225.6 C407.55,226.12 408.99,226.70 410.5,227.2 C412.00,227.70 413.47,228.07 415,228.6 C416.63,229.16 418.45,229.80 420,230.5 C421.43,231.14 422.71,231.72 424,232.6 C425.41,233.56 427.07,234.78 428.1,236.1 C429.04,237.30 429.42,238.82 430.1,240.1 C430.75,241.31 431.43,243.60 432.1,243.6 C432.77,243.60 433.52,241.33 434.1,240.1 C434.69,238.83 434.88,237.21 435.6,236.1 C436.25,235.09 437.07,234.11 438.1,233.6 C439.20,233.06 440.62,233.13 442.1,233.1 C443.92,233.06 446.27,233.46 448.2,233.6 C449.95,233.72 451.63,233.91 453.2,233.9 C454.61,233.89 456.35,234.37 457.2,233.6 C458.22,232.68 457.89,230.04 458.2,228 C458.57,225.57 458.97,222.78 459.2,220 C459.45,217.00 459.35,213.82 459.6,210.6 C459.87,207.17 460.46,203.94 460.8,200 C461.23,195.05 461.24,188.64 461.8,183.2 C462.33,178.02 463.05,172.91 464,168.1 C464.88,163.61 465.85,159.14 467.2,155.2 C468.41,151.68 469.76,148.66 471.5,145.5 C473.33,142.19 475.86,138.65 478,135.8 C479.82,133.39 481.94,131.63 483.4,129.4 C484.76,127.32 485.21,124.57 486.6,122.9 C487.79,121.46 489.39,120.00 490.9,119.7 C492.27,119.43 493.89,119.96 495.2,120.8 C496.82,121.84 498.21,123.77 499.5,126.1 C501.40,129.52 503.05,135.87 504.3,140 C505.28,143.25 505.78,145.60 506.6,148.8 C507.59,152.64 508.78,156.85 509.8,161.5 C511.03,167.07 512.34,174.93 513.3,180 C513.97,183.53 514.46,186.07 515,189 C515.52,191.80 515.98,194.05 516.5,197.2 C517.20,201.47 517.98,207.27 518.7,212.3 C519.42,217.33 520.18,223.22 520.8,227.4 C521.24,230.37 521.60,232.70 522,235 C522.33,236.93 522.43,238.76 523,240.3 C523.49,241.63 524.27,242.70 525,243.8 C525.71,244.86 526.29,245.65 527.3,246.8 C528.87,248.58 531.73,251.82 533.8,253.2 C535.28,254.19 536.84,254.31 538.1,255 C539.20,255.60 540.03,256.23 541,257 C542.09,257.87 543.17,258.83 544.3,260 C545.66,261.42 547.45,263.78 548.5,265 C549.12,265.72 549.47,265.88 550,266.7 C551.02,268.27 552.29,271.86 553.4,274.2 C554.39,276.29 554.96,278.95 556.3,280.1 C557.34,281.00 558.80,281.23 560.1,281.3 C561.43,281.38 562.90,280.48 564.2,280.5 C565.39,280.52 566.65,280.64 567.6,281.3 C568.68,282.05 569.12,284.33 570.1,285.1 C570.85,285.69 571.75,286.16 572.6,286 C573.71,285.79 574.89,284.04 576,283 C577.13,281.94 578.05,280.60 579.3,279.7 C580.55,278.80 582.07,278.10 583.5,277.6 C584.87,277.12 586.51,276.91 587.7,276.7 C588.58,276.55 589.14,276.29 590,276.4 C591.17,276.55 592.79,277.29 594,278 C595.18,278.70 596.23,279.57 597.2,280.6 C598.25,281.71 599.20,283.12 600,284.5 C600.80,285.89 601.41,287.22 602,288.9 C602.73,290.98 602.93,295.86 603.8,296.1 C604.31,296.24 605.04,295.17 605.6,294.3 C606.52,292.85 607.00,289.59 608,287.7 C608.85,286.08 609.99,283.53 611,283.5 C611.96,283.47 613.15,285.63 613.9,287.1 C614.82,288.89 614.99,291.57 615.7,293.7 C616.39,295.77 616.91,298.71 618.1,299.7 C618.92,300.38 620.11,300.55 621.1,300.3 C622.32,299.99 623.45,298.12 624.7,297.3 C625.86,296.54 627.21,296.28 628.3,295.5 C629.42,294.69 630.38,293.72 631.3,292.5 C632.41,291.02 633.46,288.81 634.3,287.1 C635.02,285.63 635.50,282.91 636.1,282.9 C636.66,282.89 637.40,285.67 637.8,286.5 C638.01,286.94 638.12,286.98 638.3,287.5 C638.82,289.05 639.54,293.66 640.1,297.1 C640.75,301.08 641.38,306.16 641.9,310 C642.32,313.10 641.96,317.57 643,318.4 C643.51,318.80 644.30,318.03 645,318.2 C645.91,318.42 647.15,320.44 647.9,320.1 C649.38,319.43 648.92,310.60 649.8,306.8 C650.48,303.85 650.95,300.91 652.3,299.1 C653.37,297.66 655.35,295.94 656.5,296.2 C657.70,296.47 658.56,299.05 659.3,301 C660.28,303.59 660.60,307.13 661.2,310.6 C661.91,314.69 662.44,323.96 663.2,324 C663.78,324.03 664.06,317.91 665.1,316.3 C665.74,315.30 666.84,314.16 667.5,314.4 C668.74,314.84 669.00,324.91 669.8,324.9 C670.73,324.89 671.89,310.58 672.7,310.6 C673.48,310.62 674.00,319.25 674.6,324 C675.28,329.37 675.94,335.64 676.5,341.2 C677.03,346.42 677.90,356.40 677.9,356.4" fill="none" stroke="#836c74" stroke-width="3.1" stroke-linejoin="round" stroke-linecap="round"/>
<path d="M124.2,113.4 C124.20,113.40 127.78,113.07 129,113.6 C129.98,114.03 130.59,114.83 131.2,115.8 C132.00,117.07 132.42,118.86 133,120.8 C133.77,123.40 134.37,126.95 135.2,130.1 C136.07,133.41 137.04,136.86 138.1,140.2 C139.17,143.56 140.32,147.18 141.6,150.2 C142.71,152.84 143.83,155.50 145.2,157.4 C146.29,158.91 147.53,160.84 148.8,161 C149.95,161.15 151.18,159.75 152.4,158.9 C153.81,157.91 155.12,156.45 156.7,155.3 C158.45,154.03 160.58,152.90 162.5,151.7 C164.41,150.50 166.47,149.36 168.2,148.1 C169.78,146.95 171.16,145.78 172.5,144.5 C173.82,143.24 174.78,141.16 176.2,140.5 C177.43,139.93 178.88,140.07 180.3,140.3 C181.94,140.57 183.69,141.65 185.4,142.3 C187.12,142.95 188.79,143.62 190.6,144.2 C192.54,144.82 194.75,145.33 196.7,145.9 C198.51,146.43 200.18,146.93 201.9,147.5 C203.61,148.07 205.20,148.83 207,149.3 C208.95,149.81 211.13,150.27 213.2,150.4 C215.26,150.53 217.34,150.25 219.4,150.1 C221.44,149.95 223.46,149.57 225.5,149.5 C227.56,149.43 229.75,149.41 231.7,149.7 C233.50,149.97 235.10,150.59 236.8,151.1 C238.53,151.62 240.04,152.44 242,152.8 C244.42,153.25 247.75,152.81 250.3,153.2 C252.54,153.54 254.44,154.25 256.5,154.8 C258.54,155.35 260.56,155.94 262.6,156.5 C264.66,157.07 266.72,157.80 268.8,158.2 C270.85,158.59 272.94,158.67 275,158.9 C277.04,159.13 279.17,159.20 281.1,159.6 C282.92,159.98 284.58,160.63 286.3,161.2 C288.01,161.77 289.60,162.47 291.4,163 C293.35,163.58 295.55,163.91 297.6,164.5 C299.68,165.10 301.75,165.87 303.8,166.6 C305.85,167.33 307.87,168.09 309.9,168.9 C311.97,169.72 314.23,170.69 316.1,171.5 C317.67,172.17 318.80,172.80 320.4,173.4 C322.32,174.12 324.93,174.38 326.9,175.4 C328.86,176.42 330.34,178.08 332.2,179.5 C334.25,181.07 336.58,182.60 338.7,184.4 C340.92,186.29 343.23,188.59 345.2,190.6 C346.95,192.38 348.43,194.45 350,195.8 C351.25,196.87 352.47,197.40 353.7,198.3 C354.98,199.23 356.31,200.31 357.5,201.3 C358.60,202.21 359.59,203.04 360.6,204 C361.65,205.00 362.59,206.18 363.7,207.2 C364.85,208.25 366.07,209.32 367.4,210.2 C368.76,211.10 370.45,211.41 371.8,212.5 C373.35,213.75 374.57,216.14 376,217.5 C377.21,218.65 378.39,219.39 379.7,220.3 C381.08,221.26 382.63,222.21 384.1,223.1 C385.53,223.97 386.95,224.78 388.4,225.6 C389.85,226.42 391.34,227.19 392.8,228 C394.27,228.82 395.74,229.66 397.2,230.5 C398.64,231.33 400.04,232.22 401.5,233 C402.97,233.78 404.37,234.36 406,235.2 C408.00,236.23 410.94,237.90 412.6,238.8 C413.60,239.34 414.05,239.61 415,240.1 C416.36,240.81 418.32,241.84 420,242.6 C421.65,243.34 423.55,243.92 425,244.6 C426.18,245.15 427.07,245.61 428.1,246.3 C429.26,247.08 430.18,248.76 431.6,249.1 C433.28,249.50 435.74,248.01 437.7,247.8 C439.49,247.61 441.18,247.73 442.9,247.8 C444.61,247.87 446.30,248.12 448,248.2 C449.70,248.28 451.55,248.18 453.1,248.3 C454.41,248.40 455.48,248.48 456.7,248.8 C458.04,249.15 459.36,249.78 460.8,250.4 C462.44,251.11 464.39,252.09 466,252.9 C467.43,253.62 468.74,254.10 470,255 C471.35,255.97 472.62,257.11 473.8,258.6 C475.23,260.41 476.54,263.13 477.7,265.3 C478.75,267.28 479.49,269.34 480.5,271.1 C481.41,272.68 482.30,274.06 483.4,275.4 C484.52,276.76 485.88,278.94 487.2,279.2 C488.29,279.42 489.48,277.73 490.6,277.8 C491.75,277.87 492.80,279.55 494,279.7 C495.20,279.85 496.45,278.90 497.8,278.7 C499.30,278.47 501.15,278.98 502.6,278.5 C504.01,278.03 505.24,276.78 506.4,275.9 C507.45,275.11 508.39,273.97 509.3,273.5 C509.96,273.16 510.60,273.42 511.2,273 C512.07,272.39 512.73,269.71 513.6,269.6 C514.35,269.50 515.28,271.06 516,271.6 C516.55,272.01 516.84,272.30 517.5,272.6 C518.52,273.07 520.19,273.85 521.7,273.8 C523.51,273.74 525.72,271.65 527.6,271.7 C529.35,271.75 530.92,273.73 532.6,273.8 C534.25,273.87 535.91,272.55 537.6,272.2 C539.25,271.86 541.19,271.20 542.6,271.7 C543.98,272.19 544.81,273.95 546,275.1 C547.27,276.32 548.58,277.54 550,278.8 C551.56,280.17 553.46,282.89 555,283 C556.21,283.09 557.27,281.73 558.4,280.9 C559.67,279.97 561.05,277.52 562.2,277.6 C563.27,277.67 564.24,279.50 565.1,280.9 C566.25,282.76 566.96,288.00 568,288.1 C568.79,288.18 569.65,285.56 570.5,284.3 C571.35,283.03 572.09,280.73 573.1,280.5 C573.96,280.31 575.04,281.50 576,282.2 C577.10,283.00 578.11,284.47 579.3,285.1 C580.36,285.67 581.61,286.17 582.7,286 C583.85,285.82 584.88,284.54 586,283.9 C587.11,283.27 588.74,282.63 589.4,282.2 C589.70,282.01 589.74,281.69 590,281.7 C590.54,281.72 591.70,283.00 592.4,284.1 C593.41,285.68 594.12,288.39 594.8,290.7 C595.53,293.17 595.99,295.95 596.6,298.5 C597.19,300.95 597.73,305.66 598.4,305.7 C598.95,305.73 599.53,302.73 600.2,300.9 C601.08,298.49 602.04,294.76 603.2,292.5 C604.08,290.79 604.97,289.20 606.1,288.3 C607.00,287.58 608.12,287.02 609.1,287.1 C610.12,287.18 611.18,288.05 612.1,288.9 C613.22,289.93 613.87,292.59 615.1,293.1 C616.14,293.53 617.58,292.85 618.7,292.5 C619.77,292.17 620.73,290.98 621.7,291.1 C622.74,291.22 623.81,293.63 624.7,293.5 C625.62,293.37 626.12,290.87 627.1,290.1 C627.96,289.42 629.26,289.63 630.1,288.9 C631.13,288.00 631.73,286.20 632.5,284.7 C633.34,283.05 633.98,280.76 634.9,279.4 C635.60,278.37 636.51,276.88 637.2,277 C638.10,277.15 638.81,280.07 639.5,282.1 C640.44,284.88 641.21,288.84 641.9,292.3 C642.61,295.84 642.94,303.03 643.7,303.1 C644.22,303.15 644.96,300.30 645.5,298.3 C646.34,295.18 646.89,290.12 647.6,286 C648.32,281.85 648.49,273.89 649.8,273.5 C650.55,273.28 651.86,274.88 652.6,276.5 C654.21,280.02 653.57,290.06 654.7,295.8 C655.64,300.58 657.03,308.53 658.4,308.7 C659.28,308.81 660.06,305.52 661.2,303.9 C662.52,302.03 664.36,299.99 666,298.2 C667.56,296.50 669.37,295.16 670.8,293.4 C672.24,291.63 673.22,288.64 674.6,287.6 C675.52,286.91 676.60,286.48 677.5,286.7 C678.55,286.96 679.60,288.01 680.4,289.6 C682.13,293.04 682.22,302.51 683.2,308.7 C684.13,314.59 685.10,320.77 686.1,325.9 C686.91,330.10 687.76,337.29 688.6,337.3 C689.36,337.31 690.16,331.45 690.9,327.8 C691.88,322.93 692.74,315.86 693.7,310.6 C694.52,306.12 695.00,298.56 696.2,298.2 C696.75,298.03 697.56,298.97 698.1,300.1 C699.64,303.33 700.40,322.00 700.4,322" fill="none" stroke="#223b95" stroke-width="3.3" stroke-linejoin="round" stroke-linecap="butt"/>
<g stroke="#b3a2a9" stroke-width="1.6" fill="none">
<line x1="113.1" y1="23" x2="113.1" y2="360.3"/>
<line x1="112.3" y1="359.7" x2="701" y2="359.7"/>
</g>
<path d="M113.1,20.5 L111.3,24.5 L114.9,24.5 Z" fill="#a08f97"/>
<path d="M703.5,359.7 L699,357.8 L699,361.6 Z" fill="#a8979e"/>
<g class="ax">
<text transform="matrix(1.1613,0,0,1,66.24,70.60)">500</text>
<text transform="matrix(1.1248,0,0,1,66.67,104.60)">200</text>
<text transform="matrix(1.1212,0,0,1,76.91,138.60)">50</text>
<text transform="matrix(1.1395,0,0,1,76.83,173.60)">20</text>
<text transform="matrix(1.0665,0,0,1,87.61,206.60)">5</text>
<text transform="matrix(1.1493,0,0,1,87.06,241.60)">2</text>
<text transform="matrix(0.7169,0,0,1,90.42,275.60)">1</text>
<text transform="matrix(0.8909,0,0,1,77.12,308.60)">0.1</text>
<text transform="matrix(0.9847,0,0,1,66.50,342.60)">0.01</text>
<text transform="matrix(1.1691,0,0,1,103.01,392.00)">20</text>
<text transform="matrix(1.1085,0,0,1,135.20,392.00)">30</text>
<text transform="matrix(1.1255,0,0,1,169.99,392.00)">50</text>
<text transform="matrix(1.0572,0,0,1,204.85,392.00)">100</text>
<text transform="matrix(1.1869,0,0,1,254.76,392.00)">200</text>
<text transform="matrix(1.1591,0,0,1,304.65,392.00)">300</text>
<text transform="matrix(1.1787,0,0,1,361.70,392.00)">500</text>
<text transform="matrix(0.8946,0,0,1,425.95,392.00)">1k</text>
<text transform="matrix(1.1267,0,0,1,470.93,392.00)">2k</text>
<text transform="matrix(1.1118,0,0,1,519.80,392.00)">3k</text>
<text transform="matrix(1.1441,0,0,1,583.04,392.00)">5k</text>
<text transform="matrix(1.0313,0,0,1,638.88,392.00)">10k</text>

</g>
<g class="lg">
<line x1="536" y1="50.9" x2="578.3" y2="50.9" stroke="#836c74" stroke-width="2.3" stroke-linecap="round"/>
<line x1="536" y1="76.6" x2="578.3" y2="76.6" stroke="#223b95" stroke-width="2.6" stroke-linecap="round"/>
<text transform="matrix(1.1229,0,0,1,584.13,51.75)">THD (Without Algorithm)</text>
<text transform="matrix(1.1118,0,0,1,584.12,81.75)">THD (With Algorithm)</text>
</g>
</svg>
</body></html>
